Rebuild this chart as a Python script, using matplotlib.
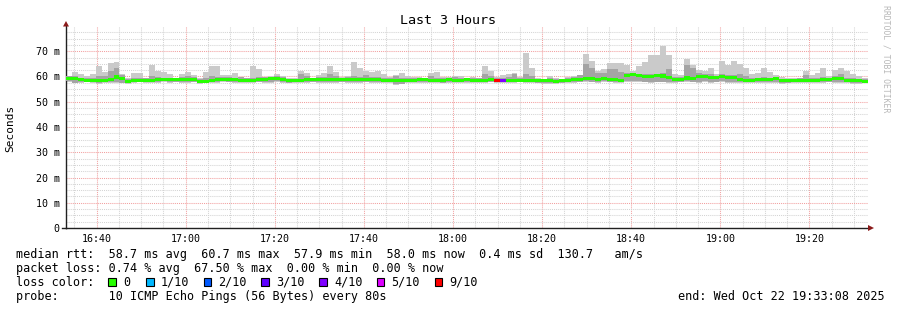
import numpy as np
import matplotlib
matplotlib.use("Agg")
import matplotlib.pyplot as plt
from matplotlib.ticker import MultipleLocator, FuncFormatter, FixedLocator
from matplotlib.patches import Rectangle, Polygon

# ---------------- data (ms), one value per 80 s step, 16:33:08 -> 19:33:08 -------------
median = [59.3, 59.3, 58.8, 58.5, 58.5, 58.4, 58.6, 58.8, 59.8, 59.3,
          58.0, 58.4, 58.5, 58.6, 58.6, 58.9, 58.8, 58.8, 58.9, 58.8,
          59.0, 58.8, 58.1, 58.2, 58.6, 58.7, 58.9, 59.0, 58.7, 58.6,
          58.5, 58.5, 58.8, 58.9, 59.2, 59.3, 58.9, 58.3, 58.5, 58.6,
          58.8, 58.7, 58.8, 58.8, 59.0, 59.0, 59.0, 58.9, 58.8, 58.7,
          58.9, 59.0, 58.7, 58.6, 58.6, 58.4, 58.4, 58.5, 58.6, 58.7,
          58.8, 58.6, 58.5, 58.6, 58.7, 58.5, 58.6, 58.7, 58.6, 58.5,
          58.6, 58.8, 58.3, 58.3, 58.5, 58.6, 58.6, 58.5, 58.6, 58.4,
          58.3, 58.3, 58.2, 58.3, 58.6, 58.7, 58.9, 59.2, 59.1, 59.0,
          59.2, 59.0, 59.0, 58.6, 60.4, 60.7, 60.4, 60.0, 59.9, 60.3,
          60.2, 59.5, 59.0, 59.0, 59.4, 59.3, 60.0, 59.9, 59.6, 59.5,
          60.0, 59.6, 59.5, 58.7, 58.6, 58.6, 58.7, 58.7, 58.8, 59.1,
          58.3, 58.3, 58.4, 58.4, 58.5, 58.6, 58.6, 58.7, 58.8, 59.2,
          59.1, 58.3, 58.4, 58.3, 58.0]

smoke_hi = [60.3, 61.7, 60.8, 60.0, 61.0, 64.3, 61.7, 65.3, 65.9, 61.0,
            59.5, 61.3, 61.3, 59.6, 64.4, 62.0, 61.7, 60.8, 59.6, 60.8,
            61.7, 60.4, 59.6, 61.7, 64.3, 64.0, 60.4, 60.4, 61.3, 59.9,
            59.6, 64.3, 63.0, 59.9, 60.3, 60.8, 60.0, 59.5, 59.5, 62.0,
            61.2, 59.5, 60.6, 61.2, 64.0, 61.6, 59.8, 60.0, 65.9, 63.4,
            62.3, 61.6, 62.3, 60.8, 59.8, 60.6, 61.2, 60.0, 59.8, 59.8,
            59.5, 61.2, 61.6, 59.8, 59.8, 60.3, 60.0, 59.6, 59.8, 59.6,
            64.2, 62.0, 59.8, 60.6, 61.0, 61.3, 59.8, 69.5, 63.2, 59.5,
            59.0, 60.2, 59.5, 59.2, 59.8, 60.3, 60.5, 69.1, 66.2, 62.3,
            63.0, 65.5, 65.2, 65.5, 64.6, 62.3, 64.2, 65.9, 68.4, 68.7,
            72.1, 68.7, 60.8, 60.6, 66.8, 64.6, 62.6, 62.0, 63.4, 60.8,
            66.2, 64.6, 66.2, 64.9, 63.4, 60.8, 61.3, 63.4, 61.6, 60.4,
            59.8, 59.5, 59.5, 59.5, 62.2, 60.4, 61.3, 63.4, 60.0, 62.7,
            63.4, 62.2, 60.8, 60.0, 59.5]

smoke_mid = [60.0, 60.2, 59.6, 59.4, 59.5, 60.2, 60.3, 62.0, 63.2, 60.4,
             58.9, 59.3, 59.4, 59.4, 60.0, 59.8, 59.6, 59.6, 59.4, 59.7,
             60.3, 59.8, 59.0, 59.4, 60.0, 59.8, 59.7, 59.8, 59.6, 59.7,
             59.3, 59.6, 59.8, 59.9, 59.9, 60.2, 59.7, 59.0, 59.2, 60.8,
             60.0, 59.5, 59.8, 59.8, 61.0, 60.0, 59.6, 59.7, 60.3, 59.9,
             60.4, 59.9, 59.9, 59.5, 59.4, 60.3, 59.6, 59.4, 59.4, 59.5,
             59.5, 60.2, 59.6, 59.4, 59.6, 59.7, 59.4, 59.4, 59.4, 59.3,
             60.8, 60.2, 59.3, 59.6, 59.8, 61.0, 59.5, 60.8, 60.3, 59.1,
             58.9, 59.3, 59.2, 58.9, 59.4, 59.7, 60.4, 65.0, 63.4, 61.4,
             61.4, 63.0, 62.8, 61.8, 61.5, 61.3, 61.0, 61.0, 60.8, 60.9,
             61.2, 63.0, 59.8, 59.9, 64.5, 63.4, 61.5, 61.0, 61.0, 60.3,
             60.8, 60.5, 60.6, 60.8, 60.0, 59.6, 59.5, 59.8, 59.6, 59.8,
             59.1, 59.1, 59.2, 59.3, 60.4, 59.5, 59.6, 59.8, 59.6, 60.3,
             60.8, 59.4, 59.3, 59.2, 59.0]

smoke_lo = [57.8, 57.3, 57.6, 57.8, 57.6, 57.2, 57.5, 57.4, 57.6, 57.3,
            57.0, 57.5, 57.7, 57.6, 57.4, 57.6, 57.8, 57.6, 57.7, 57.5,
            57.6, 57.7, 57.2, 57.3, 57.5, 57.6, 57.8, 57.7, 57.5, 57.4,
            57.5, 57.6, 57.7, 57.5, 57.6, 57.8, 57.6, 57.3, 57.5, 57.6,
            57.5, 57.7, 57.6, 57.6, 57.4, 57.6, 57.7, 57.6, 57.5, 57.6,
            57.7, 57.5, 57.6, 57.5, 57.4, 56.8, 56.9, 57.4, 57.5, 57.6,
            57.4, 57.5, 57.6, 57.3, 57.5, 57.6, 57.4, 57.5, 57.6, 57.5,
            57.6, 57.7, 57.4, 57.5, 57.6, 57.6, 57.7, 57.5, 57.6, 57.3,
            57.2, 57.0, 57.0, 57.3, 57.4, 57.6, 57.7, 57.8, 57.7, 57.6,
            57.8, 57.7, 57.6, 57.5, 57.8, 57.9, 57.8, 57.7, 57.6, 57.7,
            57.7, 57.6, 57.6, 57.7, 57.8, 57.7, 57.6, 57.8, 57.6, 57.7,
            57.8, 57.6, 57.5, 57.4, 57.5, 57.6, 57.5, 57.4, 57.6, 57.5,
            57.2, 57.3, 57.4, 57.5, 57.5, 57.6, 57.5, 57.6, 57.7, 57.5,
            57.6, 57.4, 57.0, 57.0, 57.3]

# loss per step (in tenths)
loss = [0] * 135
loss[72] = 9
loss[73] = 4

loss_levels = ["0", "1/10", "2/10", "3/10", "4/10", "5/10", "9/10"]
loss_keys = [0, 1, 2, 3, 4, 5, 9]
loss_colors = ["#26ff00", "#00b8ff", "#0059ff", "#5e00ff", "#7e00ff", "#dd00ff", "#ff0000"]

y_major = [0, 10, 20, 30, 40, 50, 60, 70]
title = "Last 3 Hours"
stats_rtt = "median rtt:  58.7 ms avg  60.7 ms max  57.9 ms min  58.0 ms now  0.4 ms sd  130.7   am/s"
stats_loss = "packet loss: 0.74 % avg  67.50 % max  0.00 % min  0.00 % now"
probe_text = "probe:       10 ICMP Echo Pings (56 Bytes) every 80s"
end_text = "end: Wed Oct 22 19:33:08 2025"

# ---------------- figure ----------------
W, H = 897, 310
fig = plt.figure(figsize=(W / 100, H / 100), dpi=100)
fig.patch.set_facecolor("white")
L, R, B, T = 66, 868, 228, 26
ax = fig.add_axes([L / W, 1 - B / H, (R - L) / W, (B - T) / H])

MONO = "DejaVu Sans Mono"
step_min = 80 / 60
start = 33 + 8 / 60  # minutes after 16:00
n = len(median)
edges = start + np.arange(n + 1) * step_min


def ext(a):
    a = np.asarray(a, float)
    return np.append(a, a[-1])


med = np.asarray(median, float)
lo = np.asarray(smoke_lo, float)
hi = np.asarray(smoke_hi, float)
mid = np.maximum(np.asarray(smoke_mid, float), lo + 0.3)

ax.fill_between(edges, ext(lo), ext(hi), step="post", color="#cacaca", lw=0, zorder=2)
ax.fill_between(edges, ext(lo + 0.3), ext(mid), step="post", color="#a4a4a4", lw=0, zorder=3)
ax.fill_between(edges, ext(med - 0.6), ext(med + 0.6), step="post", color=loss_colors[0], lw=0, zorder=4)
for i, l in enumerate(loss):
    if l > 0:
        ax.bar(edges[i], 1.2, width=step_min, bottom=med[i] - 0.6, align="edge",
               color=loss_colors[loss_keys.index(l)], lw=0, zorder=5)

ax.set_xlim(start, start + 180)
ax.set_ylim(0, 80)

ax.xaxis.set_major_locator(MultipleLocator(20))
ax.xaxis.set_minor_locator(MultipleLocator(5))
ax.yaxis.set_major_locator(FixedLocator(y_major))
ax.yaxis.set_minor_locator(FixedLocator([v for v in np.arange(2.5, 80, 2.5) if v % 10 != 0]))
ax.xaxis.set_major_formatter(FuncFormatter(lambda v, p: f"{16 + int(round(v)) // 60}:{int(round(v)) % 60:02d}"))
ax.yaxis.set_major_formatter(FuncFormatter(lambda v, p: "0" if abs(v) < 1e-9 else f"{int(round(v))} m"))

ax.grid(which="minor", color="#d4d4d4", lw=0.75, linestyle=(0, (1, 1)), zorder=1)
ax.grid(which="major", color="#f2a0a0", lw=0.75, linestyle=(0, (1, 1)), zorder=1)
ax.set_axisbelow(True)

for s in ["top", "right"]:
    ax.spines[s].set_visible(False)
for s in ["left", "bottom"]:
    ax.spines[s].set_color("#202020")
    ax.spines[s].set_linewidth(1.0)

ax.tick_params(which="both", length=0)
ax.tick_params(axis="x", pad=4.5, labelsize=7.2)
ax.tick_params(axis="y", pad=4.5, labelsize=7.2)
for lab in ax.get_xticklabels() + ax.get_yticklabels():
    lab.set_fontfamily(MONO)

# x-axis extension to the left and arrows
fig.add_artist(plt.Line2D([62 / W, 66 / W], [1 - 228 / H, 1 - 228 / H], color="#202020", lw=1.0))
arrow_c = "#8b1a1a"
fig.add_artist(Polygon([[63 / W, 1 - 26.5 / H], [69 / W, 1 - 26.5 / H], [66 / W, 1 - 21 / H]],
                       closed=True, transform=fig.transFigure, color=arrow_c, lw=0))
fig.add_artist(Polygon([[868 / W, 1 - 225 / H], [868 / W, 1 - 231 / H], [874 / W, 1 - 228 / H]],
                       closed=True, transform=fig.transFigure, color=arrow_c, lw=0))


def px(x, y):
    return x / W, 1 - y / H


fig.text(*px(448, 20), title, ha="center", va="center", fontsize=9.6, family=MONO)
fig.text(*px(10, 128), "Seconds", ha="center", va="center", rotation=90, fontsize=8, family=MONO)
fig.text(*px(886, 59), "RRDTOOL / TOBI OETIKER", ha="center", va="center", rotation=270,
         fontsize=5.9, family=MONO, color="#b8b8b8")

fs = 8.5
fig.text(*px(16, 254.3), stats_rtt, ha="left", va="center", fontsize=fs, family=MONO)
fig.text(*px(16, 268.3), stats_loss, ha="left", va="center", fontsize=fs, family=MONO)
fig.text(*px(16, 282.3), "loss color:", ha="left", va="center", fontsize=fs, family=MONO)
text_x = [123, 161, 218.5, 276, 334, 391.5, 449.5]
for tx, lab, col in zip(text_x, loss_levels, loss_colors):
    bx = tx - 15
    fig.add_artist(Rectangle(px(bx, 286), 7.7 / W, 8 / H, transform=fig.transFigure,
                             facecolor=col, edgecolor="black", lw=0.8))
    fig.text(*px(tx, 282.3), lab, ha="left", va="center", fontsize=fs, family=MONO)
fig.text(*px(16, 296.3), probe_text, ha="left", va="center", fontsize=fs, family=MONO)
fig.text(*px(678, 296.3), end_text, ha="left", va="center", fontsize=fs, family=MONO)

fig.savefig("out.png", dpi=100, facecolor="white")
